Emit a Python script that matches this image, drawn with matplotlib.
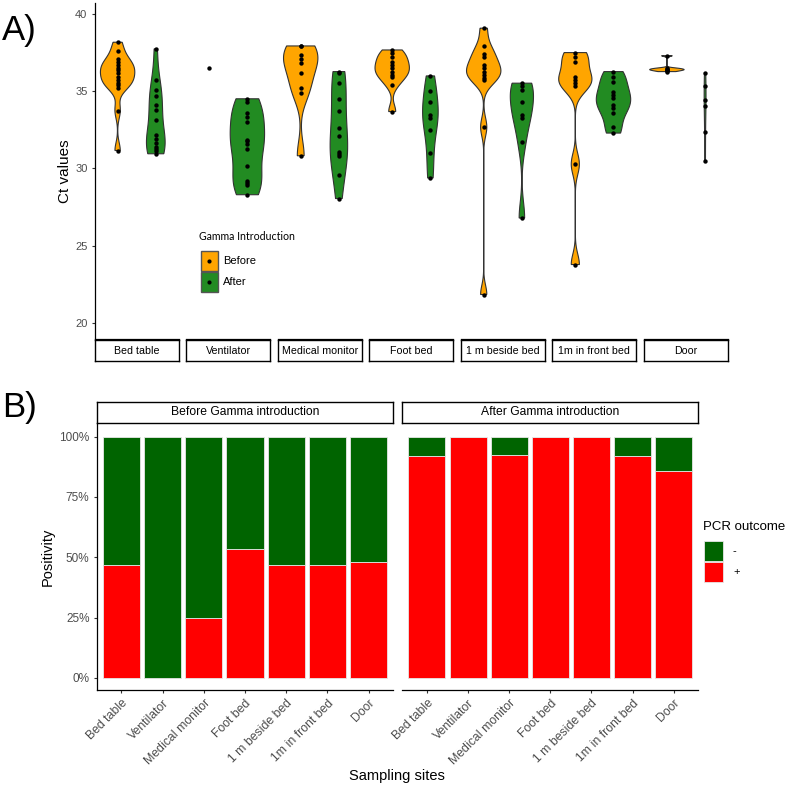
import numpy as np
import matplotlib
matplotlib.use("Agg")
import matplotlib.pyplot as plt
from matplotlib.patches import Rectangle, Polygon
from matplotlib import font_manager

# ---- data ----
sites = ["Bed table", "Ventilator", "Medical monitor", "Foot bed",
         "1 m beside bed", "1m in front bed", "Door"]

# Ct values of positive samples, per site (panel A)
ct_before = [
    [38.17, 37.63, 37.07, 36.87, 36.70, 36.53, 36.38, 36.20, 35.95, 35.73, 35.56, 35.41, 35.24, 33.75, 31.16],
    [36.53],
    [37.93, 37.93, 37.35, 37.07, 36.81, 36.17, 35.20, 34.91, 30.82],
    [37.67, 37.46, 37.20, 36.92, 36.70, 36.49, 36.27, 36.06, 35.90, 35.41, 33.68],
    [39.08, 37.93, 37.39, 37.24, 36.70, 36.49, 36.27, 36.06, 35.84, 35.73, 32.68, 21.84],
    [37.50, 37.24, 36.92, 35.95, 35.73, 35.52, 35.35, 30.28, 23.78],
    [37.30, 36.49, 36.45, 36.40, 36.38, 36.33, 36.27],
]
ct_after = [
    [37.74, 35.73, 35.09, 34.70, 34.12, 33.79, 33.15, 32.18, 31.90, 31.64, 31.38, 31.25, 31.10, 30.95],
    [34.51, 34.33, 33.62, 33.32, 33.00, 31.86, 31.75, 31.60, 31.27, 30.13, 29.20, 29.06, 28.90, 28.30],
    [36.27, 36.17, 35.52, 34.50, 33.73, 32.61, 32.07, 31.08, 30.93, 30.78, 29.56, 28.05],
    [35.99, 35.04, 34.29, 33.47, 33.26, 32.46, 30.99, 29.38],
    [35.52, 35.35, 35.09, 34.27, 33.47, 33.26, 31.68, 26.79],
    [36.27, 35.95, 35.62, 34.98, 34.76, 34.55, 34.12, 33.90, 33.62, 32.68, 32.29],
    [36.20, 35.35, 34.40, 34.05, 32.39, 30.45],
]

# share of positive samples (panel B)
pos_before = [0.467, 0.0, 0.25, 0.533, 0.467, 0.467, 0.48]
pos_after = [0.92, 1.0, 0.923, 1.0, 1.0, 0.92, 0.857]

groups = ["Before", "After"]
col_before = "#FFA500"
col_after = "#228B22"
col_neg = "#006400"
col_pos = "#FF0000"
grey_txt = "#4d4d4d"

plt.rcParams["font.family"] = ["Liberation Sans", "DejaVu Sans"]
names = {f.name for f in font_manager.fontManager.ttflist}
if "Liberation Sans Narrow" in names:
    narrow, strip_size = "Liberation Sans Narrow", 9
else:
    narrow, strip_size = "Liberation Sans", 7.7

W, H = 789, 786
fig = plt.figure(figsize=(W / 100, H / 100), dpi=100)


def ax_px(x0, y0, x1, y1):
    # axes placed with pixel coordinates measured from the top left
    return fig.add_axes([x0 / W, 1 - y1 / H, (x1 - x0) / W, (y1 - y0) / H])


def nrd0(x):
    x = np.asarray(x)
    hi = np.std(x, ddof=1)
    iqr = np.subtract(*np.percentile(x, [75, 25]))
    lo = min(hi, iqr / 1.34)
    if lo == 0:
        lo = hi or abs(x[0]) or 1
    return 0.9 * lo * len(x) ** -0.2


def density(x):
    x = np.asarray(x)
    bw = nrd0(x)
    grid = np.linspace(x.min(), x.max(), 512)
    d = np.exp(-0.5 * ((grid[:, None] - x[None, :]) / bw) ** 2).sum(1)
    d /= len(x) * bw * np.sqrt(2 * np.pi)
    return grid, d


def style_spines(ax, left=True):
    for s in ["top", "right"]:
        ax.spines[s].set_visible(False)
    ax.spines["left"].set_visible(left)
    ax.spines["left"].set_linewidth(0.9)
    ax.spines["bottom"].set_linewidth(0.9)


def strip(x0, y0, x1, y1, label, **kw):
    s = ax_px(x0, y0, x1, y1)
    s.set_xticks([])
    s.set_yticks([])
    for sp in s.spines.values():
        sp.set_linewidth(1.0)
    s.text(0.5, 0.5, label, ha="center", va="center", transform=s.transAxes, **kw)


# ---- panel A: violins per site ----
facet_x0 = [94.7, 186.3, 277.8, 369.3, 460.8, 552.4, 644.0]
facet_w = 84
for i, site in enumerate(sites):
    x0 = facet_x0[i]
    ax = ax_px(x0, 3, x0 + facet_w, 339)
    ax.set_xlim(0.4, 2.6)
    ax.set_ylim(18.96, 40.71)
    style_spines(ax, left=(i == 0))
    ax.set_xticks([])
    if i == 0:
        ax.set_yticks([20, 25, 30, 35, 40])
        ax.tick_params(axis="y", length=2.2, width=0.8, color="#333333",
                       labelsize=8, labelcolor=grey_txt, pad=3)
        ax.set_ylabel("Ct values", fontsize=11, labelpad=2)
    else:
        ax.set_yticks([])

    data = [ct_before[i], ct_after[i]]
    dens = [density(v) if len(v) > 1 else None for v in data]
    dmax = max(d[1].max() for d in dens if d is not None)
    for g, (vals, dd, col) in enumerate(zip(data, dens, [col_before, col_after])):
        xc = g + 1
        if dd is not None:
            yy, d = dd
            hw = d / dmax * 0.45
            xs = np.concatenate([xc - hw, (xc + hw)[::-1]])
            ys = np.concatenate([yy, yy[::-1]])
            ax.add_patch(Polygon(np.column_stack([xs, ys]), closed=True, fc=col,
                                 ec="#333333", lw=0.8, zorder=2))
        ax.scatter(np.full(len(vals), xc), vals, s=10, c="black", zorder=3,
                   linewidths=0, clip_on=False)

    strip(x0, 340, x0 + facet_w, 361, site, fontsize=strip_size, family=narrow)

# ---- panel B: stacked positivity bars ----
xpos = np.arange(1, len(sites) + 1)
panels_b = [(96.7, 393.3, pos_before, "Before Gamma introduction"),
            (402.3, 698.3, pos_after, "After Gamma introduction")]
for j, (x0, x1, pos, title) in enumerate(panels_b):
    ax = ax_px(x0, 423.3, x1, 690)
    ax.set_xlim(0.4, 7.6)
    ax.set_ylim(-0.05, 1.055)
    style_spines(ax, left=(j == 0))
    pos = np.array(pos)
    ax.bar(xpos, pos, 0.9, color=col_pos, ec="#e6e6e6", lw=0.6)
    ax.bar(xpos, 1 - pos, 0.9, bottom=pos, color=col_neg, ec="#e6e6e6", lw=0.6)
    ax.set_xticks(xpos)
    ax.set_xticklabels(sites, rotation=45, ha="right", va="top",
                       rotation_mode="anchor")
    ax.tick_params(axis="x", length=2.2, width=0.8, color="#333333",
                   labelsize=8.8, labelcolor=grey_txt, pad=3)
    if j == 0:
        ax.set_yticks([0, 0.25, 0.5, 0.75, 1.0])
        ax.set_yticklabels(["0%", "25%", "50%", "75%", "100%"])
        ax.tick_params(axis="y", length=2.2, width=0.8, color="#333333",
                       labelsize=8.5, labelcolor=grey_txt, pad=3)
        ax.set_ylabel("Positivity", fontsize=10.5, labelpad=3.5)
    else:
        ax.set_yticks([])
    strip(x0, 401.7, x1, 423.3, title, fontsize=8.7)

# ---- overlay for labels and legends ----
ov = fig.add_axes([0, 0, 1, 1], zorder=10)
ov.set_xlim(0, W)
ov.set_ylim(H, 0)
ov.axis("off")
ov.patch.set_alpha(0)

ov.text(2, 40, "A)", fontsize=25, va="baseline", ha="left")
ov.text(2, 417, "B)", fontsize=25, va="baseline", ha="left")
ov.text(397, 776, "Sampling sites", fontsize=10.5, ha="center", va="center")

# legend of panel A
ov.text(199, 236, "Gamma Introduction", fontsize=7.6, family="Lato", va="center")
for k, (lab, col) in enumerate(zip(groups, [col_before, col_after])):
    y0 = 251 + k * 21
    ov.add_patch(Rectangle((201, y0), 17, 20, fc=col, ec="#555555", lw=1.0))
    ov.scatter(209.5, y0 + 10, s=9, c="black", linewidths=0)
    ov.text(223, y0 + 10, lab, fontsize=8, va="center")

# legend of panel B
ov.text(703, 527, "PCR outcome", fontsize=9.5, va="center")
for k, (lab, col) in enumerate(zip(["-", "+"], [col_neg, col_pos])):
    y0 = 541 + k * 21
    ov.add_patch(Rectangle((704, y0), 19, 20, fc=col, ec="#e6e6e6", lw=0.6))
    ov.text(733, y0 + 10, lab, fontsize=8, va="center")

fig.savefig("out.png", dpi=100)
